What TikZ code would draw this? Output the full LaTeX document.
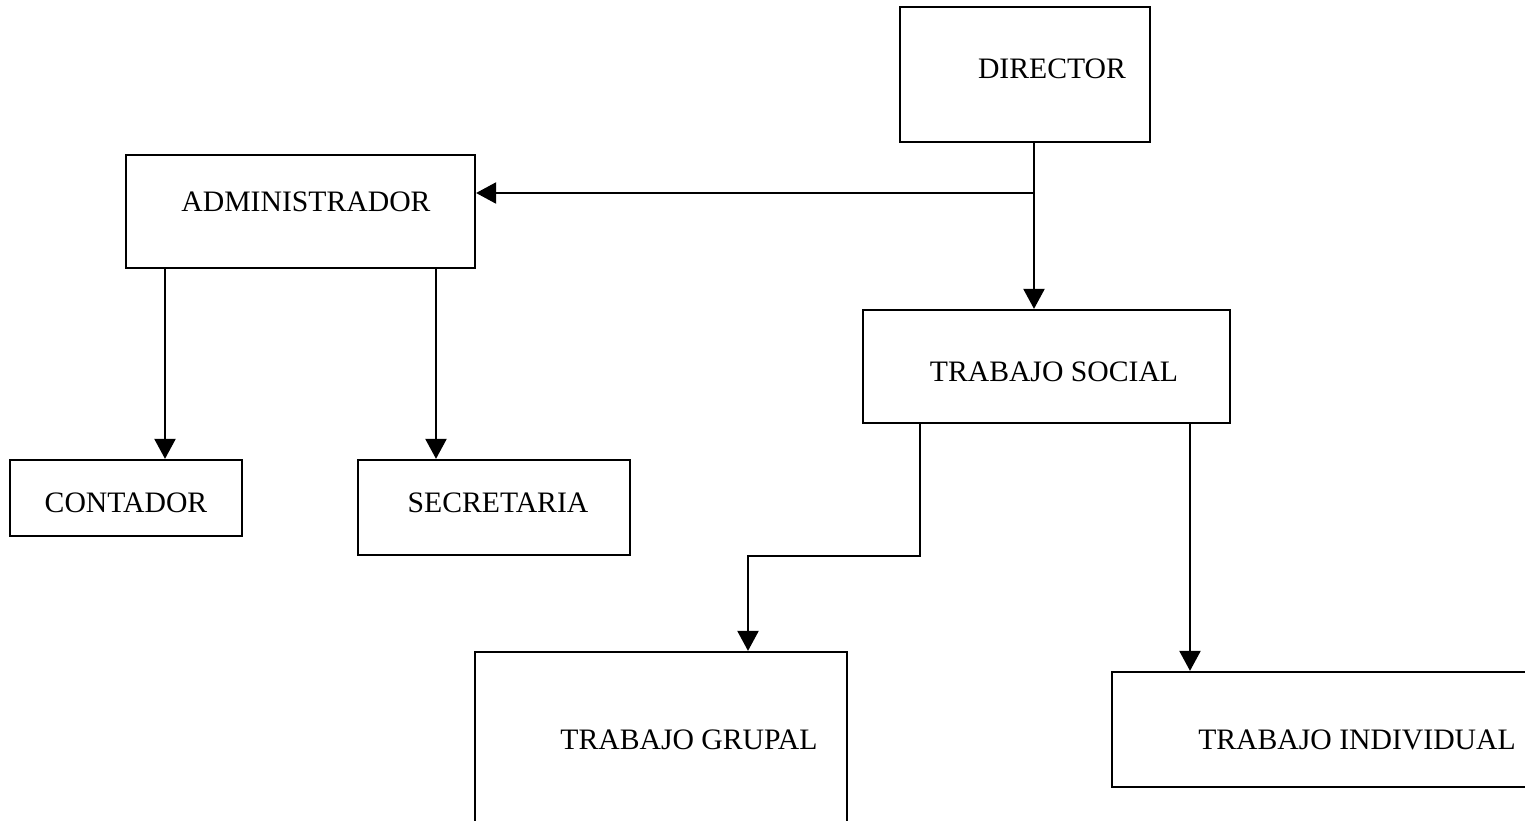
\documentclass[tikz,border=0pt]{standalone}
\usepackage{fontspec}
\setmainfont{Liberation Serif}
\usepackage{tikz}
\usetikzlibrary{arrows.meta, positioning}
\tikzstyle{box} = [draw, rectangle, line width=1.3pt, inner sep=0pt]
\tikzstyle{lbl} = [anchor=base, inner sep=0pt, font=\fontsize{16.9}{20}\selectfont]
\tikzstyle{arr} = [line width=1.3pt, -{Triangle[length=0.4cm, width=0.42cm]}]

\begin{document}
\begin{tikzpicture}[x=0.02cm, y=-0.02cm]
			\useasboundingbox (0, 0) rectangle (1525, 821);
			\clip (0, 0) rectangle (1525, 821);

			\node (Dir) [box, minimum width=5cm, minimum height=2.7cm] at (1025, 74.5) {};
			\node (Adm) [box, minimum width=6.98cm, minimum height=2.26cm] at (300.5, 211.5) {};
			\node (Soc) [box, minimum width=7.34cm, minimum height=2.26cm] at (1046.5, 366.5) {};
			\node (Con) [box, minimum width=4.64cm, minimum height=1.52cm] at (126, 498) {};
			\node (Sec) [box, minimum width=5.44cm, minimum height=1.9cm] at (494, 507.5) {};
			\node (Gru) [box, minimum width=7.44cm, minimum height=3.76cm] at (661, 746) {};
			\node (Ind) [box, minimum width=8.66cm, minimum height=2.3cm] at (1328.5, 729.5) {};

			\node (DirText) [lbl] at (1052, 79) {DIRECTOR};
			\node (AdmText) [lbl] at (306, 212) {ADMINISTRADOR};
			\node (SocText) [lbl] at (1054, 381) {TRABAJO SOCIAL};
			\node (ConText) [lbl] at (126, 512) {CONTADOR};
			\node (SecText) [lbl] at (498, 512) {SECRETARIA};
			\node (GruText) [lbl] at (689, 749) {TRABAJO GRUPAL};
			\node (IndText) [lbl] at (1357, 749) {TRABAJO INDIVIDUAL};

			\coordinate (Split) at (1034, 193);
			\draw [arr] (Dir.south -| Split) -- (Soc.north -| Split);
			\draw [arr] (Split) -- (Adm.east |- Split);

			\coordinate (AdmL) at (165, 0);
			\coordinate (AdmR) at (436, 0);
			\draw [arr] (Adm.south -| AdmL) -- (Con.north -| AdmL);
			\draw [arr] (Adm.south -| AdmR) -- (Sec.north -| AdmR);

			\coordinate (Bend1) at (920, 556);
			\coordinate (Bend2) at (748, 556);
			\draw [arr] (Soc.south -| Bend1) -- (Bend1) -- (Bend2) -- (Gru.north -| Bend2);

			\coordinate (SocR) at (1190, 0);
			\draw [arr] (Soc.south -| SocR) -- (Ind.north -| SocR);
		\end{tikzpicture}
\end{document}
